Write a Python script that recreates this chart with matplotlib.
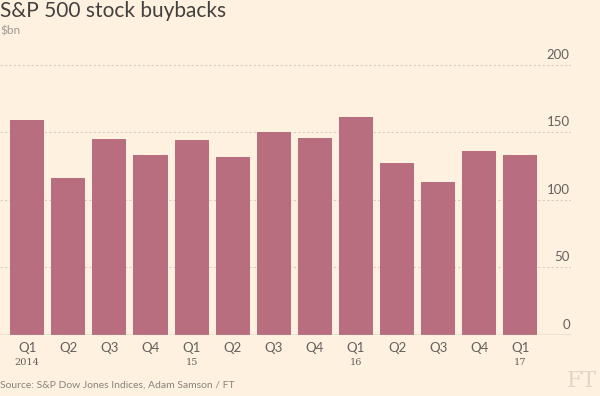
import matplotlib
matplotlib.use("Agg")
import matplotlib.pyplot as plt
import numpy as np

BG = "#fff1e0"
BAR = "#b96e80"
TXT = "#66605c"

quarters = ["Q1", "Q2", "Q3", "Q4", "Q1", "Q2", "Q3", "Q4",
            "Q1", "Q2", "Q3", "Q4", "Q1"]
years = {0: "2014", 4: "15", 8: "16", 12: "17"}
buybacks = [159, 116, 145, 133, 144, 132, 150, 146, 161, 127, 113, 136, 133]
yticks = [0, 50, 100, 150, 200]

fig = plt.figure(figsize=(6, 3.96), dpi=100, facecolor=BG)
ax = fig.add_axes([0.0, (396 - 335) / 396, 571 / 600, (335 - 62) / 396])
ax.set_facecolor(BG)

x = np.arange(len(buybacks))
ax.bar(x, buybacks, width=0.83, color=BAR, zorder=2)
ax.set_xlim(-0.66, 13.23)
ax.set_ylim(0, 202)

for s in ax.spines.values():
    s.set_visible(False)
ax.axhline(0, color="#a7a59b", lw=1, zorder=3)
for v in yticks[1:]:
    ax.axhline(v, color="#d9cdbf", lw=0.8, ls=(0, (2, 2)), zorder=1)
for v in yticks:
    ax.text(13.2, v + 3, str(v), ha="right", va="bottom", fontsize=9.5,
            color=TXT, family="Lato")

ax.set_xticks([])
ax.set_yticks([])
for i, q in enumerate(quarters):
    ax.text(i, -5, q, ha="center", va="top", fontsize=9.5, color=TXT, family="Lato")
for i, y in years.items():
    ax.text(i, -17, y, ha="center", va="top", fontsize=7, color=TXT, family="DejaVu Serif")

fig.text(0.0, 0.997, "S&P 500 stock buybacks", ha="left", va="top", fontsize=15,
         color="#43403e", family="Lato")
fig.text(0.0, 0.935, "$bn", ha="left", va="top", fontsize=8.5, color="#a09a92", family="Lato")
fig.text(0.0, 0.015, "Source: S&P Dow Jones Indices, Adam Samson / FT", ha="left", va="bottom",
         fontsize=7.5, color="#8a837c", family="Lato")
fig.text(0.995, 0.01, "FT", ha="right", va="bottom", fontsize=16, color="#e3d6c6",
         family="DejaVu Serif")

fig.savefig("out.png", dpi=100, facecolor=BG)
